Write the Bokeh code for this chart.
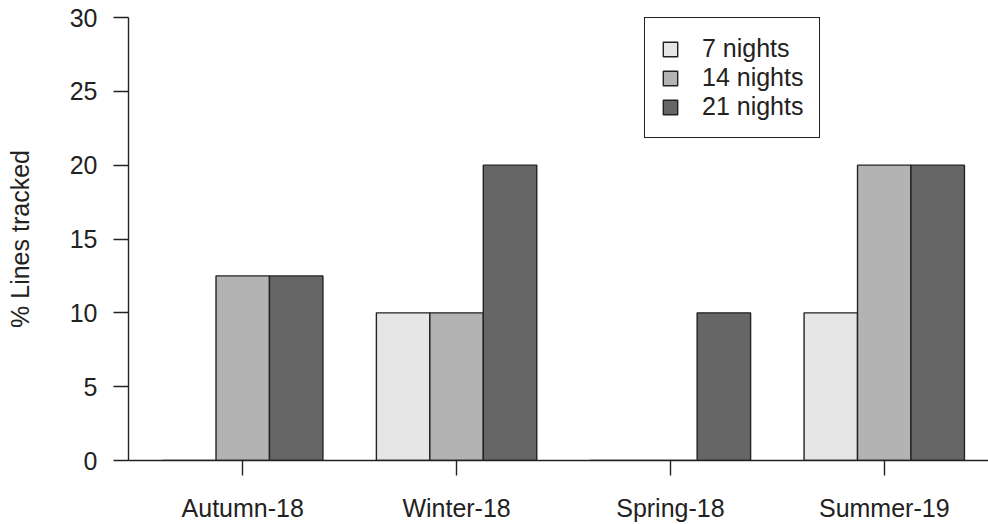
from bokeh.plotting import figure
from bokeh.models import (ColumnDataSource, Range1d, FixedTicker, Legend, LegendItem)
from bokeh.embed import file_html
from bokeh.resources import INLINE

# Data: percentage of lines tracked per season and tracking duration
seasons = ["Autumn-18", "Winter-18", "Spring-18", "Summer-19"]
durations = ["7 nights", "14 nights", "21 nights"]
pct_7_nights = [0, 10, 0, 10]
pct_14_nights = [12.5, 10, 0, 20]
pct_21_nights = [12.5, 20, 10, 20]
y_ticks = [0, 5, 10, 15, 20, 25, 30]

series = [pct_7_nights, pct_14_nights, pct_21_nights]
fills = ["#e6e6e6", "#b3b3b3", "#666666"]

# Grouped bar layout: each group = one bar-width gap + one bar per duration
n_dur = len(durations)
group_step = n_dur + 1
font = "Liberation Sans"
ink = "#222222"
fsize = "25px"

p = figure(width=988, height=524, output_backend="svg", toolbar_location=None,
           x_range=Range1d(0.363, 16.45), y_range=Range1d(0, 30),
           min_border_left=128, min_border_right=0, min_border_top=17,
           min_border_bottom=62)
p.outline_line_color = None
p.xgrid.visible = False
p.ygrid.visible = False
p.background_fill_color = "white"
p.border_fill_color = "white"

items = []
for j, (name, vals, col) in enumerate(zip(durations, series, fills)):
    xs = [1.5 + group_step * i + j for i in range(len(seasons))]
    src = ColumnDataSource(dict(x=xs, top=vals, season=seasons))
    r = p.vbar(x="x", top="top", bottom=0, width=1.0, source=src,
               fill_color=col, line_color=ink, line_width=1.4)
    items.append(LegendItem(label=name, renderers=[r]))

# Axes
p.yaxis.ticker = FixedTicker(ticks=y_ticks)
p.yaxis.axis_label = "% Lines tracked"
p.xaxis.ticker = FixedTicker(ticks=[2.5 + group_step * i for i in range(len(seasons))])
p.xaxis.major_label_overrides = {2.5 + group_step * i: s for i, s in enumerate(seasons)}

for ax in (p.xaxis[0], p.yaxis[0]):
    ax.axis_line_color = ink
    ax.axis_line_width = 1.4
    ax.major_tick_line_color = ink
    ax.major_tick_line_width = 1.4
    ax.major_tick_out = 15
    ax.major_tick_in = 0
    ax.minor_tick_out = 0
    ax.minor_tick_in = 0
    ax.major_label_text_font = font
    ax.major_label_text_font_size = fsize
    ax.major_label_text_color = ink
    ax.axis_label_text_font = font
    ax.axis_label_text_font_size = fsize
    ax.axis_label_text_font_style = "normal"
    ax.axis_label_text_color = ink

p.yaxis.major_label_standoff = 16
p.yaxis.axis_label_standoff = 33
p.xaxis.major_label_standoff = 18
p.yaxis.major_label_orientation = "horizontal"

legend = Legend(items=items, location=(516, 322), orientation="vertical",
                glyph_width=18, glyph_height=18, label_height=29,
                label_standoff=23, spacing=0, padding=16, margin=0,
                label_text_font=font, label_text_font_size=fsize,
                label_text_color=ink, border_line_color=ink,
                border_line_width=1.5, border_line_alpha=1.0,
                background_fill_color="white", background_fill_alpha=1.0)
p.add_layout(legend)

open("out.html", "w").write(file_html(p, INLINE))
